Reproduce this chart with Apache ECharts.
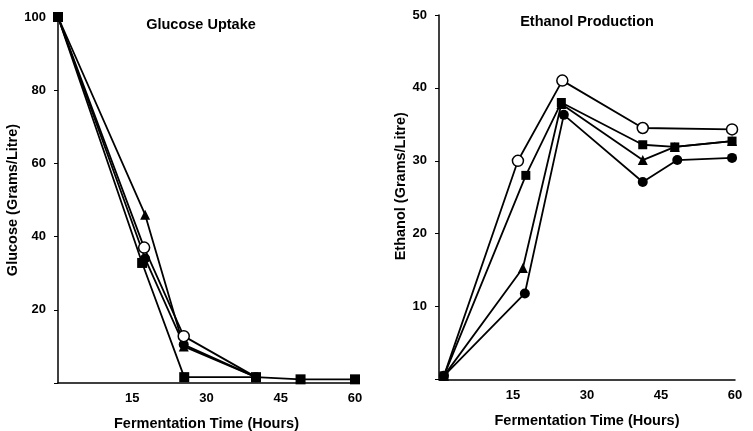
<!DOCTYPE html>
<html>
<head>
    <meta charset="utf-8">
    <title>Glucose Uptake / Ethanol Production</title>
    <script src="https://cdn.jsdelivr.net/npm/echarts@6/dist/echarts.min.js"></script>
    <style type="text/css">
        * {
            margin: 0px;
            padding: 0px;
        }

        #main {
            width: 753px;
            height: 431px;
            background: #fff;
        }
    </style>
</head>
<body>
<div id="main"></div>
<script type="text/javascript">
    // 数据: [时间(小时), 数值]
    var xTicks = [0, 15, 30, 45, 60];
    var glucoseTicks = [0, 20, 40, 60, 80, 100];
    var ethanolTicks = [0, 10, 20, 30, 40, 50];

    // Glucose Uptake
    var glucoseOpenCircle = [[0, 100], [17.4, 37], [25.4, 12.8], [40, 1.6]];
    var glucoseTriangle = [[0, 100], [17.6, 46], [25.4, 10], [40, 1.6]];
    var glucoseCircle = [[0, 100], [17.6, 34], [25.4, 10.5], [40, 1.6]];
    var glucoseSquare = [[0, 100], [17, 32.8], [25.5, 1.6], [40, 1.6], [49, 1], [60, 1]];

    // Ethanol Production
    var ethanolOpenCircle = [[1, 0.5], [16, 30], [25, 41], [41.3, 34.5], [59.4, 34.3]];
    var ethanolSquare = [[1, 0.5], [17.6, 28], [24.8, 38], [41.3, 32.2], [47.8, 31.9], [59.4, 32.7]];
    var ethanolTriangle = [[1, 0.5], [17, 15.3], [24.8, 37.8], [41.3, 30.1], [47.8, 31.9], [59.4, 32.7]];
    var ethanolCircle = [[1, 0.5], [17.4, 11.8], [25.3, 36.3], [41.3, 27.1], [48.3, 30.1], [59.4, 30.4]];

    var myChart = echarts.init(document.getElementById('main'));

    var font = 'Liberation Sans, Arial, sans-serif';
    var titleStyle = {color: '#000', fontFamily: font, fontWeight: 'bold', fontSize: 14.5};

    function hideZero(v) {
        return v === 0 ? '' : v;
    }

    function xAxisOf(idx, gap) {
        return {
            type: 'value', gridIndex: idx,
            min: xTicks[0], max: xTicks[xTicks.length - 1], interval: xTicks[1] - xTicks[0],
            name: 'Fermentation Time (Hours)', nameLocation: 'middle', nameGap: gap,
            nameTextStyle: {color: '#000', fontFamily: font, fontWeight: 'bold', fontSize: 14.5},
            axisLine: {lineStyle: {color: '#000', width: 1.5}},
            axisTick: {show: false},
            splitLine: {show: false},
            axisLabel: {
                color: '#000', fontFamily: font, fontWeight: 'bold', fontSize: 13, margin: 9,
                formatter: hideZero
            }
        };
    }

    function yAxisOf(idx, ticks, name, gap, pad) {
        return {
            type: 'value', gridIndex: idx,
            min: ticks[0], max: ticks[ticks.length - 1], interval: ticks[1] - ticks[0],
            name: name, nameLocation: 'middle', nameGap: gap,
            nameTextStyle: {color: '#000', fontFamily: font, fontWeight: 'bold', fontSize: 14.5, padding: pad},
            axisLine: {show: true, lineStyle: {color: '#000', width: 1.5}},
            axisTick: {show: true, length: 4, lineStyle: {color: '#000'}},
            splitLine: {show: false},
            axisLabel: {
                color: '#000', fontFamily: font, fontWeight: 'bold', fontSize: 13, margin: 12,
                formatter: hideZero
            }
        };
    }

    // 实心方块放在最上层; 与方块重合的空心圆不画标记
    function line(idx, data, symbol, size, open, z, square) {
        var points = data;
        if (open && square) {
            points = data.map(function (d) {
                var hit = square.some(function (s) { return s[0] === d[0] && s[1] === d[1]; });
                return hit ? {value: d, symbol: 'none'} : d;
            });
        }
        return {
            type: 'line', xAxisIndex: idx, yAxisIndex: idx,
            data: points, symbol: symbol, symbolSize: size, clip: false,
            lineStyle: {color: '#000', width: 1.8},
            itemStyle: open ? {color: '#fff', borderColor: '#000', borderWidth: 1.5} : {color: '#000'},
            z: z
        };
    }

    var option = {
        animation: false,
        backgroundColor: '#fff',
        title: [
            {text: 'Glucose Uptake', left: 196, top: 12, textAlign: 'center', textStyle: titleStyle},
            {text: 'Ethanol Production', left: 582, top: 9, textAlign: 'center', textStyle: titleStyle}
        ],
        grid: [
            {left: 58, top: 17, width: 297, height: 366, outerBoundsMode: 'none', containLabel: false},
            {left: 439, top: 15, width: 296, height: 364.5, outerBoundsMode: 'none', containLabel: false}
        ],
        xAxis: [xAxisOf(0, 33), xAxisOf(1, 34)],
        yAxis: [
            yAxisOf(0, glucoseTicks, 'Glucose (Grams/Litre)', 26, [0, 0, 0, 0]),
            yAxisOf(1, ethanolTicks, 'Ethanol (Grams/Litre)', 28, [0, 0, 0, 22])
        ],
        series: [
            line(0, glucoseCircle, 'circle', 10, false, 2),
            line(0, glucoseTriangle, 'triangle', 10, false, 2),
            line(0, glucoseOpenCircle, 'circle', 11, true, 3, glucoseSquare),
            line(0, glucoseSquare, 'rect', 10, false, 4),
            line(1, ethanolCircle, 'circle', 10, false, 2),
            line(1, ethanolTriangle, 'triangle', 10, false, 2),
            line(1, ethanolOpenCircle, 'circle', 11, true, 3, ethanolSquare),
            line(1, ethanolSquare, 'rect', 9, false, 4)
        ]
    };

    myChart.setOption(option);
</script>
</body>
</html>
